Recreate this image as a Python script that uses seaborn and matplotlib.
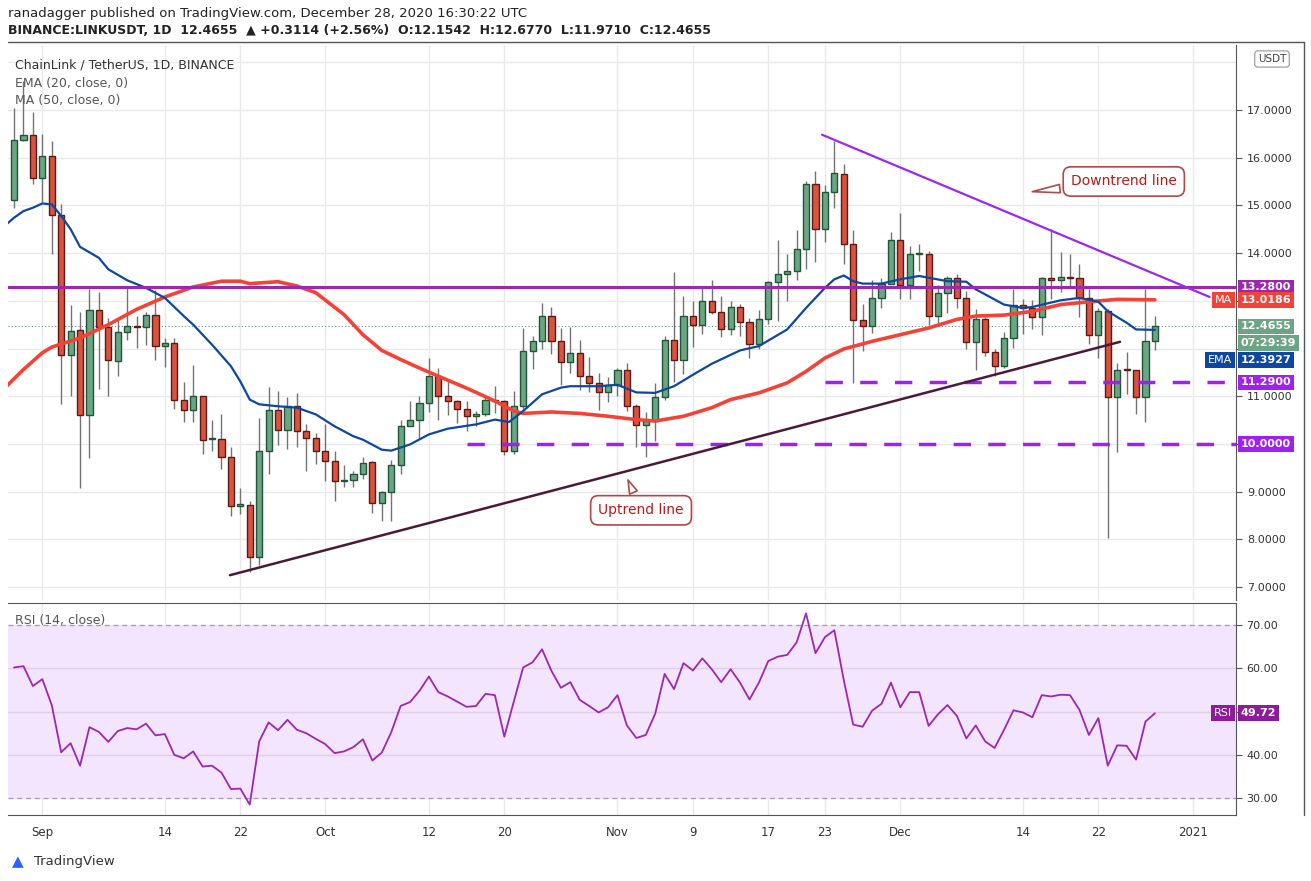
import numpy as np
import pandas as pd
import matplotlib.pyplot as plt
import seaborn as sns

# daily candles, Aug 29 2020 .. Dec 28 2020
start_date = "2020-08-29"
opens = [15.11, 16.36, 16.48, 15.57, 16.03, 14.79, 11.87, 12.38, 10.60, 12.80,
         12.46, 11.73, 12.34, 12.48, 12.45, 12.71, 12.06, 12.12, 10.93, 10.72,
         11.01, 10.10, 10.11, 9.73, 8.71, 8.72, 7.64, 9.86, 10.72, 10.30,
         10.79, 10.28, 10.13, 9.86, 9.64, 9.22, 9.25, 9.38, 9.62, 8.76,
         8.99, 9.55, 10.38, 10.51, 10.85, 11.42, 11.00, 10.90, 10.74, 10.58,
         10.62, 10.93, 10.91, 9.86, 10.79, 11.94, 12.15, 12.69, 12.15, 11.71,
         11.91, 11.43, 11.27, 11.08, 11.23, 11.56, 10.79, 10.39, 10.48, 10.98,
         12.17, 11.75, 12.69, 12.50, 12.99, 12.76, 12.40, 12.87, 12.55, 12.10,
         12.61, 13.39, 13.57, 13.62, 14.08, 15.44, 14.50, 15.27, 15.65, 14.20,
         12.59, 12.48, 13.06, 13.36, 14.27, 13.34, 13.97, 13.97, 12.68, 13.17,
         13.48, 13.06, 12.13, 12.61, 11.92, 11.63, 12.21, 12.92, 12.84, 12.66,
         13.47, 13.43, 13.50, 13.47, 13.05, 12.29, 12.78, 10.98, 11.56, 11.56,
         10.98, 12.15]
closes = [16.36, 16.48, 15.57, 16.03, 14.79, 11.87, 12.36, 10.60, 12.80, 12.46,
          11.75, 12.34, 12.48, 12.45, 12.71, 12.06, 12.12, 10.93, 10.72, 11.01,
          10.09, 10.11, 9.73, 8.71, 8.72, 7.64, 9.86, 10.72, 10.30, 10.79,
          10.28, 10.13, 9.86, 9.64, 9.22, 9.25, 9.38, 9.60, 8.76, 8.99,
          9.55, 10.38, 10.51, 10.85, 11.42, 11.00, 10.90, 10.74, 10.58, 10.62,
          10.93, 10.90, 9.86, 10.79, 11.94, 12.15, 12.69, 12.15, 11.71, 11.91,
          11.43, 11.27, 11.08, 11.23, 11.56, 10.79, 10.39, 10.48, 10.98, 12.17,
          11.75, 12.69, 12.50, 12.99, 12.76, 12.40, 12.87, 12.55, 12.10, 12.61,
          13.39, 13.57, 13.62, 14.08, 15.44, 14.50, 15.27, 15.67, 14.20, 12.59,
          12.48, 13.06, 13.36, 14.27, 13.34, 13.97, 13.97, 12.68, 13.17, 13.48,
          13.06, 12.13, 12.61, 11.92, 11.63, 12.21, 12.92, 12.84, 12.66, 13.47,
          13.43, 13.50, 13.47, 13.05, 12.29, 12.78, 10.98, 11.56, 11.54, 10.98,
          12.15, 12.47]
highs = [17.05, 17.60, 16.96, 16.50, 16.35, 15.02, 12.92, 12.76, 13.25, 13.18,
         12.64, 12.64, 13.29, 12.69, 12.76, 13.22, 12.22, 12.22, 11.29, 11.66,
         11.01, 10.50, 10.63, 9.93, 9.08, 8.80, 10.55, 11.20, 11.10, 10.99,
         11.07, 10.41, 10.23, 10.41, 9.85, 9.55, 9.43, 9.72, 9.65, 9.02,
         9.67, 10.51, 10.91, 11.01, 11.80, 11.59, 11.35, 10.93, 10.90, 10.69,
         11.01, 11.22, 10.93, 11.12, 12.43, 12.26, 12.96, 12.87, 12.43, 12.45,
         12.17, 11.82, 11.49, 11.40, 11.59, 11.69, 10.83, 10.66, 11.27, 12.27,
         13.60, 13.10, 12.99, 13.29, 13.43, 13.10, 12.99, 12.94, 12.64, 12.80,
         13.41, 14.27, 13.99, 14.48, 15.51, 15.72, 15.42, 16.35, 15.86, 14.48,
         12.94, 13.43, 13.48, 14.44, 14.83, 14.15, 14.20, 14.04, 13.34, 13.52,
         13.57, 13.20, 12.82, 12.66, 11.99, 12.35, 13.25, 13.03, 13.01, 13.50,
         14.50, 14.02, 13.97, 13.78, 13.25, 12.85, 12.82, 11.70, 11.92, 11.56,
         13.25, 12.68]
lows = [14.95, 16.35, 15.44, 15.06, 13.99, 10.83, 11.00, 9.08, 9.70, 11.16,
        11.01, 11.43, 12.17, 12.01, 12.07, 11.75, 11.62, 10.74, 10.46, 10.46,
        9.78, 9.86, 9.48, 8.50, 8.53, 7.31, 7.47, 9.38, 9.97, 9.90,
        9.93, 9.44, 9.57, 9.23, 8.80, 9.09, 9.09, 9.27, 8.55, 8.38,
        8.39, 9.36, 10.37, 10.13, 10.67, 10.51, 10.61, 10.44, 10.27, 10.38,
        10.58, 10.65, 9.76, 9.78, 10.70, 11.57, 11.98, 11.89, 11.24, 11.48,
        11.14, 11.08, 10.72, 10.87, 11.01, 10.70, 9.93, 9.73, 10.06, 10.93,
        11.30, 11.47, 12.03, 12.31, 12.73, 12.24, 12.28, 12.27, 11.80, 11.98,
        12.52, 12.57, 12.99, 13.43, 13.67, 13.82, 14.23, 14.94, 13.78, 11.28,
        11.94, 12.33, 12.84, 13.36, 13.03, 13.04, 13.62, 12.50, 12.52, 12.75,
        12.85, 11.99, 11.56, 11.85, 11.42, 11.59, 12.01, 12.31, 12.41, 12.29,
        13.04, 13.18, 13.32, 12.66, 12.10, 11.80, 8.03, 9.83, 11.05, 10.62,
        10.47, 11.97]

# indicator lines (day index, value)
ema_days = [-1, 0, 1, 2, 3, 4, 5, 6, 7, 9, 10, 12, 14, 16, 18, 19, 21, 23, 24, 25,
            26, 28, 30, 32, 34, 36, 37, 39, 40, 42, 44, 46, 49, 51, 52.5, 54, 56, 58, 59, 62,
            64, 66, 68, 70, 72, 74, 77, 79, 82, 84, 86, 87, 88, 89, 90, 92, 94, 96, 99, 101,
            102, 105, 107, 108, 111, 113, 115, 116, 118, 119, 121]
ema_vals = [14.57, 14.74, 14.88, 14.95, 15.04, 15.02, 14.78, 14.50, 14.13, 13.90, 13.66, 13.43,
            13.27, 13.06, 12.68, 12.50, 12.08, 11.63, 11.31, 10.93, 10.83, 10.79, 10.76, 10.62,
            10.37, 10.16, 10.09, 9.88, 9.86, 9.99, 10.20, 10.32, 10.41, 10.51, 10.46, 10.69,
            11.04, 11.18, 11.21, 11.21, 11.24, 11.08, 11.07, 11.21, 11.45, 11.68, 11.96, 12.05,
            12.40, 12.85, 13.27, 13.45, 13.53, 13.41, 13.36, 13.36, 13.45, 13.52, 13.41, 13.40,
            13.24, 12.92, 12.85, 12.87, 13.01, 13.06, 12.98, 12.78, 12.54, 12.40, 12.39]
ma_days = [-1, 1, 3, 4, 7, 10, 13, 16, 19, 22, 24, 25, 28, 30, 32, 35, 37, 39, 41, 43,
           45, 48, 51, 53, 54, 57, 60, 63, 66, 68, 71, 74, 76, 79, 82, 84, 86, 88, 91, 94,
           97, 100, 102, 105, 108, 111, 114, 117, 121]
ma_vals = [11.17, 11.56, 11.91, 12.03, 12.22, 12.50, 12.82, 13.08, 13.29, 13.41, 13.41, 13.36,
           13.40, 13.31, 13.17, 12.71, 12.29, 11.96, 11.77, 11.59, 11.42, 11.17, 10.90, 10.69,
           10.64, 10.67, 10.64, 10.58, 10.51, 10.48, 10.58, 10.76, 10.93, 11.07, 11.28, 11.52,
           11.80, 11.99, 12.15, 12.29, 12.43, 12.61, 12.68, 12.70, 12.78, 12.92, 12.98, 13.03, 13.02]
rsi_vals = [60.2, 60.5, 55.9, 57.5, 51.5, 40.6, 42.7, 37.5, 46.4, 45.3, 43.0, 45.5, 46.2, 45.9,
            47.2, 44.5, 44.8, 40.0, 39.2, 40.8, 37.3, 37.5, 35.9, 32.1, 32.2, 28.5, 43.1, 47.5,
            45.7, 48.1, 45.8, 45.0, 43.7, 42.5, 40.4, 40.8, 41.8, 43.6, 38.7, 40.5, 45.2, 51.3,
            52.2, 54.8, 58.1, 54.5, 53.5, 52.3, 51.1, 51.3, 54.1, 53.8, 44.2, 52.3, 60.2, 61.4,
            64.4, 59.4, 55.5, 56.8, 52.7, 51.3, 49.8, 51.0, 53.8, 46.8, 43.9, 44.6, 49.5, 58.7,
            55.2, 61.2, 59.5, 62.3, 59.8, 56.8, 59.8, 56.7, 52.8, 56.7, 61.7, 62.7, 63.1, 66.0,
            72.7, 63.5, 67.2, 68.8, 57.3, 47.0, 46.5, 50.2, 51.8, 56.7, 51.0, 54.5, 54.5, 46.7,
            49.4, 51.5, 49.0, 43.8, 46.8, 43.1, 41.6, 45.8, 50.3, 49.8, 48.7, 53.8, 53.5, 53.9,
            53.8, 50.4, 44.6, 48.5, 37.5, 42.2, 42.1, 38.9, 47.7, 49.6]

tick_days = [3, 16, 24, 33, 44, 52, 64, 72, 80, 86, 94, 107, 115, 125]
tick_labels = ["Sep", "14", "22", "Oct", "12", "20", "Nov", "9", "17", "23", "Dec", "14", "22", "2021"]

df = pd.DataFrame({"open": opens, "high": highs, "low": lows, "close": closes})
df["day"] = np.arange(len(df))
df["up"] = df["close"] >= df["open"]

sns.set_style("white")
plt.rcParams["font.family"] = ["DejaVu Sans"]

W, H = 1311, 881
fig = plt.figure(figsize=(W / 100, H / 100), dpi=100)
ax = fig.add_axes([8 / W, (H - 600) / H, 1228 / W, 555 / H])
ax2 = fig.add_axes([8 / W, (H - 815) / H, 1228 / W, 212 / H], sharex=ax)

xmin, xmax = -0.64, 129.6
grid_c = "#e9e9ec"
for a in (ax, ax2):
    for d in tick_days:
        a.axvline(d, color=grid_c, lw=1, zorder=0)
for p in range(7, 19):
    ax.axhline(p, color=grid_c, lw=1, zorder=0)

# candles
up_fill, up_edge = "#6ba583", "#225437"
dn_fill, dn_edge = "#d75442", "#5b1a13"
ax.vlines(df["day"], df["low"], df["high"], color="#737375", lw=1, zorder=2)
for up, fill, edge in [(True, up_fill, up_edge), (False, dn_fill, dn_edge)]:
    sub = df[df["up"] == up]
    body = (sub["close"] - sub["open"]).abs().clip(lower=0.03)
    ax.bar(sub["day"], body, bottom=sub[["open", "close"]].min(axis=1), width=0.65,
           color=fill, edgecolor=edge, linewidth=1, zorder=3)

sns.lineplot(x=ma_days, y=ma_vals, ax=ax, color="#f44336", lw=2.6, zorder=4)
sns.lineplot(x=ema_days, y=ema_vals, ax=ax, color="#0d47a1", lw=1.6, zorder=4)

# levels and trend lines
ax.axhline(13.28, color="#9c27b0", lw=2.2, zorder=4)
ax.hlines(11.29, 86, xmax, color="#a020f0", lw=2.5, linestyles=(0, (5, 5)), zorder=4)
ax.hlines(10.0, 48, xmax, color="#a020f0", lw=2.5, linestyles=(0, (5, 5)), zorder=4)
ax.plot([22.9, 117.3], [7.25, 12.14], color="#4a1a38", lw=1.8, zorder=4)
ax.plot([85.7, 126.8], [16.48, 13.08], color="#9c27f0", lw=1.6, zorder=4)
ax.axhline(12.4655, color="#6b8f80", lw=0.8, ls=(0, (1, 2)), zorder=1)

# callouts
ax.annotate("Downtrend line", xy=(107.7, 15.28), xytext=(117.7, 15.5), ha="center", va="center",
            fontsize=10, color="#b71c1c",
            bbox=dict(boxstyle="round,pad=0.55", fc="white", ec="#b04848", lw=1.2),
            arrowprops=dict(arrowstyle="wedge,tail_width=0.6", fc="white", ec="#b04848", lw=1.2),
            zorder=6)
ax.annotate("Uptrend line", xy=(65, 9.3), xytext=(66.5, 8.61), ha="center", va="center",
            fontsize=10, color="#b71c1c",
            bbox=dict(boxstyle="round,pad=0.55", fc="white", ec="#b04848", lw=1.2),
            arrowprops=dict(arrowstyle="wedge,tail_width=0.6", fc="white", ec="#b04848", lw=1.2),
            zorder=6)

ax.set_xlim(xmin, xmax)
ax.set_ylim(6.73, 18.36)
ax.yaxis.tick_right()
price_ticks = [7, 8, 9, 10, 11, 12, 13, 14, 15, 16, 17]
ax.set_yticks(price_ticks)
# labels hidden where the price tags sit on top of them
ax.set_yticklabels([f"{v}.0000" if v not in (10, 12, 13) else "" for v in price_ticks],
                   fontsize=8, color="#333")
ax.tick_params(axis="y", length=4, color="#555", pad=4)
ax.tick_params(axis="x", length=0, labelbottom=False)
for s in ["top", "left", "bottom"]:
    ax.spines[s].set_visible(False)
ax.spines["right"].set_color("#555")
ax.set_xlabel("")
ax.set_ylabel("")

# price tags on the right axis
yt = ax.get_yaxis_transform()
tags = [(13.28, "13.2800", "#9c27b0"), (13.0186, "13.0186", "#f44336"),
        (12.4655, "12.4655", "#6ba583"), (12.115, "07:29:39", "#6ba583"),
        (11.76, "12.3927", "#0d47a1"), (11.29, "11.2900", "#a020f0"),
        (10.0, "10.0000", "#a020f0")]
for val, txt, c in tags:
    ax.text(1.004, val, txt, transform=yt, fontsize=8, color="white",
            fontweight="bold", va="center", ha="left", clip_on=False,
            bbox=dict(boxstyle="square,pad=0.25", fc=c, ec="none"))
ax.text(0.997, 13.0186, "MA", transform=yt, fontsize=8, color="white", va="center",
        ha="right", bbox=dict(boxstyle="square,pad=0.25", fc="#f44336", ec="none"))
ax.text(0.997, 11.76, "EMA", transform=yt, fontsize=8, color="white", va="center",
        ha="right", bbox=dict(boxstyle="square,pad=0.25", fc="#0d47a1", ec="none"))

ax.text(0.006, 0.975, "ChainLink / TetherUS, 1D, BINANCE", transform=ax.transAxes,
        fontsize=9, color="#333", va="top")
ax.text(0.006, 0.943, "EMA (20, close, 0)", transform=ax.transAxes, fontsize=9, color="#555", va="top")
ax.text(0.006, 0.912, "MA (50, close, 0)", transform=ax.transAxes, fontsize=9, color="#555", va="top")

# RSI panel
ax2.axhspan(30, 70, color="#f3e5fd", zorder=0)
for lvl in (30, 70):
    ax2.axhline(lvl, color="#a49aa8", lw=0.9, ls=(0, (4, 3)), zorder=1)
for lvl in (40, 50, 60):
    ax2.axhline(lvl, color="#e0d0e6", lw=1, zorder=1)
sns.lineplot(x=df["day"], y=rsi_vals, ax=ax2, color="#9c27b0", lw=1.3, zorder=3)
ax2.set_ylim(26.1, 75.1)
ax2.yaxis.tick_right()
ax2.set_yticks([30, 40, 50, 60, 70])
ax2.set_yticklabels(["30.00", "40.00", "", "60.00", "70.00"], fontsize=8, color="#333")
ax2.tick_params(axis="y", length=4, color="#555")
ax2.set_xticks(tick_days)
ax2.set_xticklabels(tick_labels, fontsize=8.5, color="#333")
ax2.tick_params(axis="x", length=0, pad=8)
ax2.spines["left"].set_visible(False)
for s in ["top", "right", "bottom"]:
    ax2.spines[s].set_color("#555")
ax2.set_xlabel("")
ax2.set_ylabel("")
ax2.text(0.006, 0.95, "RSI (14, close)", transform=ax2.transAxes, fontsize=9, color="#555", va="top")
ax2.text(1.004, 49.72, "49.72", transform=ax2.get_yaxis_transform(), fontsize=8,
         color="white", fontweight="bold", va="center", clip_on=False,
         bbox=dict(boxstyle="square,pad=0.25", fc="#8e1a9c", ec="none"))
ax2.text(0.997, 49.72, "RSI", transform=ax2.get_yaxis_transform(), fontsize=8,
         color="white", va="center", ha="right",
         bbox=dict(boxstyle="square,pad=0.25", fc="#8e1a9c", ec="none"))

# header and footer
fig.text(8 / W, 1 - 13 / H, "ranadagger published on TradingView.com, December 28, 2020 16:30:22 UTC",
         fontsize=9.5, color="#222", va="center")
fig.text(8 / W, 1 - 30 / H, "BINANCE:LINKUSDT, 1D  12.4655  \u25b2 +0.3114 (+2.56%)  "
         "O:12.1542  H:12.6770  L:11.9710  C:12.4655", fontsize=9, color="#222",
         fontweight="bold", va="center")
fig.add_artist(plt.Line2D([8 / W, 1304 / W], [1 - 42 / H] * 2, color="#555", lw=1))
fig.add_artist(plt.Line2D([1304 / W] * 2, [1 - 42 / H, 1 - 815 / H], color="#555", lw=1))
fig.text(1272 / W, 1 - 59 / H, "USDT", fontsize=7.5, color="#444", ha="center", va="center",
         bbox=dict(boxstyle="round,pad=0.3", fc="white", ec="#aaa"))
fig.text(34 / W, 1 - 862 / H, "TradingView", fontsize=9.5, color="#333", va="center")
fig.text(12 / W, 1 - 862 / H, "\u25b2", fontsize=11, color="#2962ff", va="center")

fig.savefig("out.png", dpi=100, facecolor="white")
